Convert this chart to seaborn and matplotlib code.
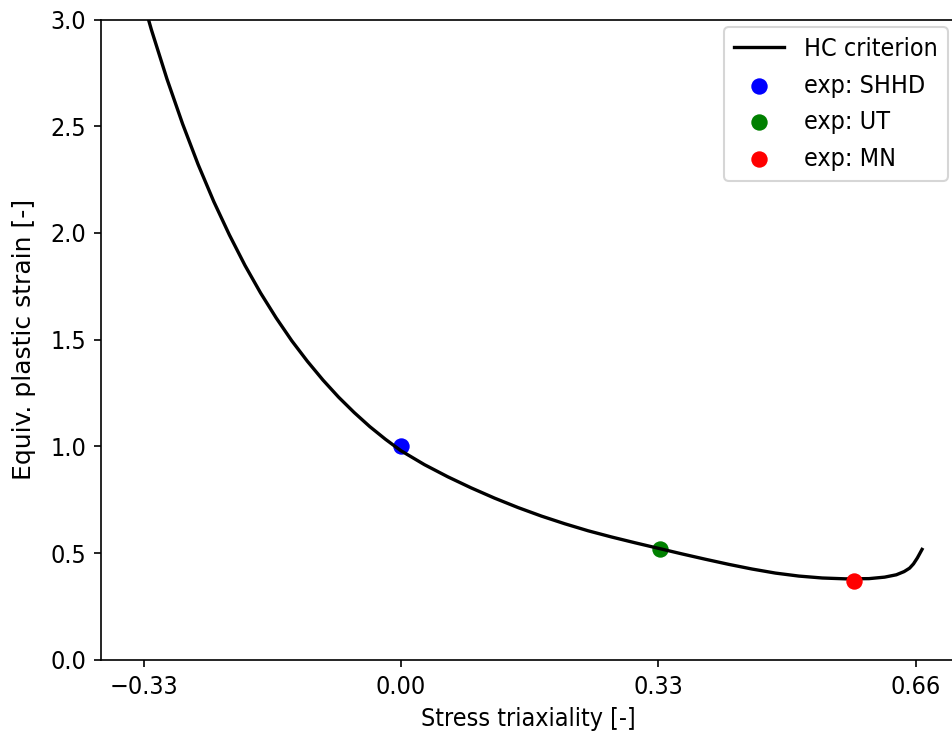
import matplotlib
matplotlib.use("Agg")
import matplotlib.pyplot as plt
import seaborn as sns

# HC fracture locus
triax = [-0.34, -0.32, -0.30, -0.28, -0.26, -0.24, -0.22, -0.20, -0.18,
         -0.16, -0.14, -0.12, -0.10, -0.08, -0.06, -0.04, -0.02, 0.00,
         0.03, 0.06, 0.09, 0.12, 0.15, 0.18, 0.21, 0.24, 0.27, 0.30,
         0.33, 0.36, 0.39, 0.42, 0.45, 0.48, 0.51, 0.54, 0.57, 0.60,
         0.62, 0.635, 0.645, 0.652, 0.657, 0.662, 0.668]
strain = [3.207, 2.952, 2.721, 2.511, 2.320, 2.147, 1.991, 1.848, 1.719,
          1.602, 1.495, 1.399, 1.311, 1.231, 1.159, 1.093, 1.034, 0.980,
          0.915, 0.858, 0.806, 0.758, 0.714, 0.674, 0.638, 0.605, 0.576, 0.549,
          0.523, 0.497, 0.472, 0.448, 0.426, 0.407, 0.393, 0.384, 0.380, 0.381,
          0.388, 0.399, 0.414, 0.430, 0.450, 0.478, 0.518]

# experiments
exp_names = ["exp: SHHD", "exp: UT", "exp: MN"]
exp_triax = [0.0, 0.332, 0.581]
exp_strain = [1.0, 0.52, 0.370]
exp_colors = ["blue", "green", "red"]

xticks = [-0.33, 0.0, 0.33, 0.66]
xticklabels = ["\u22120.33", "0.00", "0.33", "0.66"]

plt.rcParams["font.size"] = 12
plt.rcParams["font.stretch"] = "condensed"

fig = plt.figure(figsize=(952 / 150, 736 / 150), dpi=150)
ax = fig.add_axes([0.1061, 0.1033, 0.8971, 0.8702])

sns.lineplot(x=triax, y=strain, sort=False, color="black", linewidth=1.6,
             label="HC criterion", ax=ax)
for name, xv, yv, c in zip(exp_names, exp_triax, exp_strain, exp_colors):
    sns.scatterplot(x=[xv], y=[yv], color=c, s=62, linewidth=0,
                    label=name, ax=ax, zorder=3 if c == "red" else 1)

ax.set_xlim(-0.3846, 0.7103)
ax.set_ylim(0, 3.0)
ax.set_xticks(xticks)
ax.set_xticklabels(xticklabels)
ax.set_xlabel("Stress triaxiality [-]")
ax.set_ylabel("Equiv. plastic strain [-]", fontstretch="normal", labelpad=7)
ax.legend(loc="upper right", borderaxespad=0.3)

fig.savefig("out.png", dpi=150)
